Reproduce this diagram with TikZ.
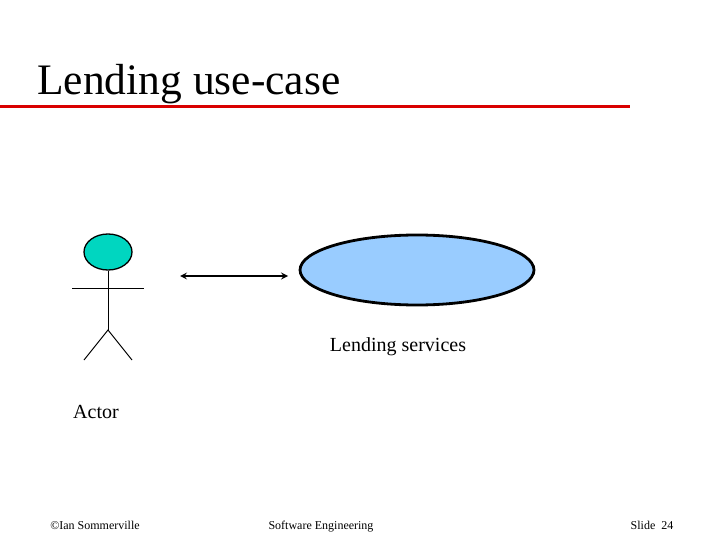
\documentclass[tikz,border=0pt]{standalone}
\usepackage{fontspec}
\usetikzlibrary{shapes.geometric}
\setmainfont{Liberation Serif}
\begin{document}
\begin{tikzpicture}[x=1pt,y=-1pt,
  lbl/.style={inner sep=0pt,font=\fontsize{20}{24}\selectfont},
  foot/.style={inner sep=0pt,anchor=base,font=\fontsize{12}{14}\selectfont},
  stick/.style={line width=1pt}]
\useasboundingbox (0,0) rectangle (720,540);
\node[inner sep=0pt,anchor=base west,font=\fontsize{43.5}{48}\selectfont] (title) at (37,95) {Lending use-case};
\draw[red!85!black,line width=3pt] (0,107) -- (630,107);
% actor
\node[draw,line width=1.3pt,ellipse,fill={rgb,255:red,0;green,214;blue,192},minimum width=48pt,minimum height=36pt,inner sep=0pt] (head) at (108,252) {};
\coordinate (hip) at (108,330);
\coordinate (la) at (72,288); \coordinate (ra) at (144,288);
\coordinate (ll) at (84,360); \coordinate (rl) at (132,360);
\draw[stick] (head.south) -- (hip);
\draw[stick] (la) -- (ra);
\draw[stick] (ll) -- (hip) -- (rl);
% use case
\node[draw,line width=2.8pt,ellipse,fill={rgb,255:red,153;green,204;blue,255},minimum width=234pt,minimum height=70pt,inner sep=0pt] (uc) at (417,270) {};
\coordinate (a1) at (180,276); \coordinate (a2) at (288,276);
\draw[line width=2pt,<->,>=stealth] (a1) -- (a2);
\node[lbl] (uclbl) at (398,347) {Lending services};
\node[lbl] (actor) at (96,412) {Actor};
\node[foot] (f1) at (95,529) {©Ian Sommerville};
\node[foot] (f2) at (321,529) {Software Engineering};
\node[foot] (f3) at (652,529) {Slide \ 24};
\end{tikzpicture}
\end{document}
